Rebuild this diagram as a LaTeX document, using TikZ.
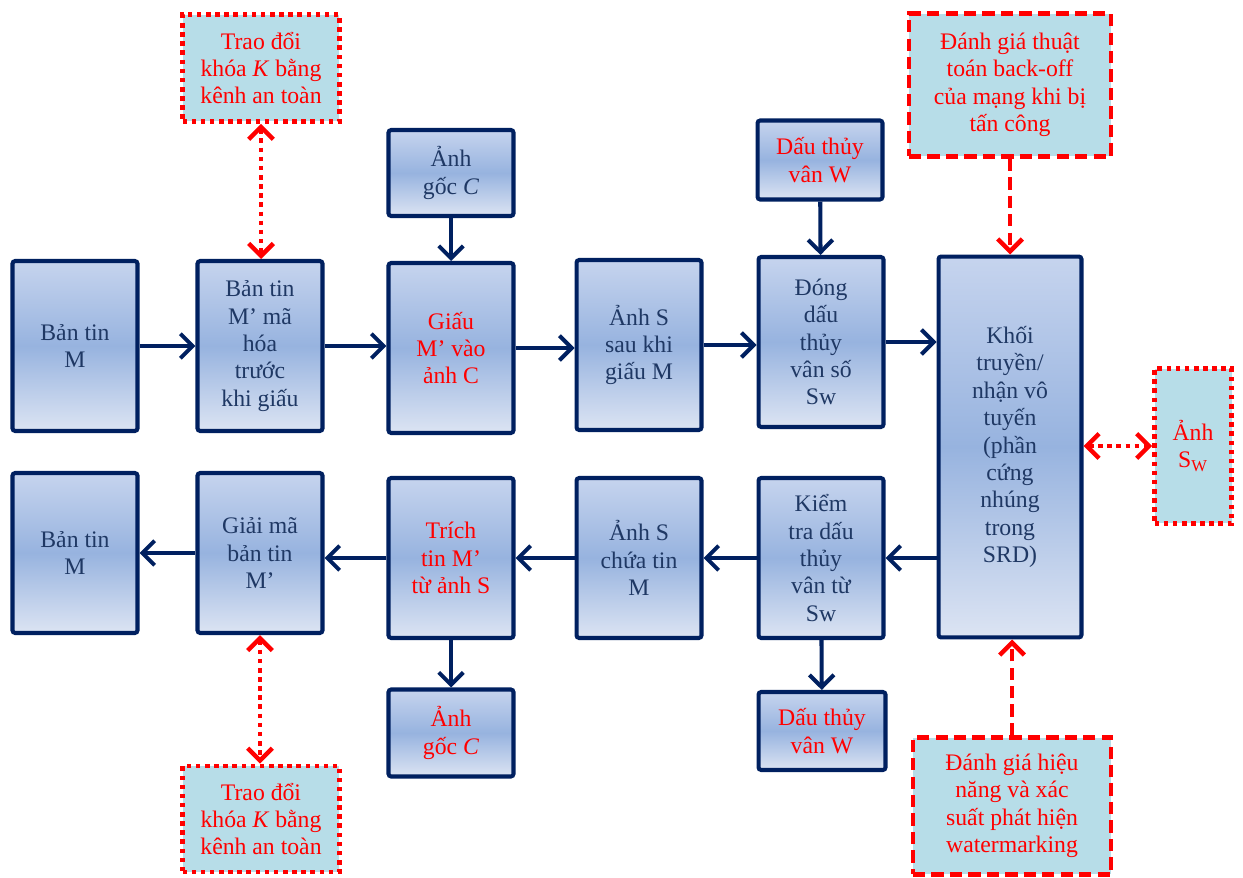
\documentclass[tikz,border=0pt]{standalone}
\usepackage{fontspec}
\setmainfont{Liberation Serif}
\usepackage{tikz}
\usetikzlibrary{arrows.meta}

\definecolor{navy}{HTML}{002060}
\definecolor{txtnavy}{HTML}{1F3864}
\definecolor{boxtop}{HTML}{C6D4EE}
\definecolor{boxmid}{HTML}{97B3DF}
\definecolor{boxbot}{HTML}{DCE4F3}
\definecolor{aqua}{HTML}{B7DDE8}

\begin{document}
\begin{tikzpicture}[x=0.02cm, y=-0.02cm,
    every node/.style={font=\fontsize{13.5}{15.6}\selectfont, align=center},
    blk/.style={draw=navy, line width=2.3pt, rounded corners=1.5pt,
        top color=boxtop, bottom color=boxbot, middle color=boxmid,
        text=txtnavy, minimum width=2.5cm, minimum height=3.4cm, inner sep=1pt},
    keybox/.style={draw=red, line width=2.6pt, dash pattern=on 2.6pt off 2.6pt,
        fill=aqua, text=red, inner sep=1pt},
    evalbox/.style={draw=red, line width=2.6pt, dash pattern=on 7pt off 3.5pt,
        fill=aqua, text=red, inner sep=1pt},
    flow/.style={draw=navy, line width=2.3pt, -{Straight Barb[length=7pt,width=14pt]}},
    keylink/.style={draw=red, line width=2.6pt, dash pattern=on 2.6pt off 2.6pt,
        {Straight Barb[length=7pt,width=14pt]}-{Straight Barb[length=7pt,width=14pt]}},
    evallink/.style={draw=red, line width=2.6pt, dash pattern=on 7pt off 3.5pt,
        -{Straight Barb[length=7pt,width=14pt]}}]
    \useasboundingbox (0,0) rectangle (1243,878);

    % Top row: sending side
    \node[blk] (msg) at (75,346) {Bản tin\\M};
    \node[blk] (enc) at (260,346) {Bản tin\\M’ mã\\hóa\\trước\\khi giấu};
    \node[blk, text=red] (hide) at (451,348) {Giấu\\M’ vào\\ảnh C};
    \node[blk, minimum height=1.72cm] (cover) at (451,173) {Ảnh\\gốc \textit{C}};
    \node[blk] (stego) at (639,345) {Ảnh S\\sau khi\\giấu M};
    \node[blk] (mark) at (821,342) {Đóng\\dấu\\thủy\\vân số\\Sw};
    \node[blk, minimum height=1.58cm, text=red] (wm) at (820,160) {Dấu thủy\\vân W};

    % Radio block
    \node[blk, minimum width=2.86cm, minimum height=7.62cm] (radio) at (1010,447)
        {Khối\\truyền/\\nhận vô\\tuyến\\(phần\\cứng\\nhúng\\trong\\SRD)};

    % Bottom row: receiving side
    \node[blk, minimum height=3.2cm] (msgr) at (75,553) {Bản tin\\M};
    \node[blk, minimum height=3.2cm] (dec) at (260,553) {Giải mã\\bản tin\\M’};
    \node[blk, minimum height=3.2cm, text=red] (extr) at (451,558) {Trích\\tin M’\\từ ảnh S};
    \node[blk, minimum height=1.74cm, text=red] (coverr) at (451,733) {Ảnh\\gốc \textit{C}};
    \node[blk, minimum height=3.2cm] (stegor) at (639,558) {Ảnh S\\chứa tin\\M};
    \node[blk, minimum height=3.2cm] (check) at (821,558) {Kiểm\\tra dấu\\thủy\\vân từ\\Sw};
    \node[blk, minimum height=1.56cm, minimum width=2.54cm, text=red] (wmr) at (822,731) {Dấu thủy\\vân W};

    % Side boxes
    \node[keybox, minimum width=3.14cm, minimum height=2.14cm] (key) at (261,68)
        {Trao đổi\\khóa \textit{K} bằng\\kênh an toàn};
    \node[keybox, minimum width=3.14cm, minimum height=2.12cm] (keyr) at (261,819)
        {Trao đổi\\khóa \textit{K} bằng\\kênh an toàn};
    \node[keybox, minimum width=1.54cm, minimum height=3.1cm] (img) at (1193,446)
        {Ảnh\\S\textsubscript{W}};
    \node[evalbox, minimum width=4.04cm, minimum height=2.86cm] (back) at (1010,85)
        {Đánh giá thuật\\toán back-off\\của mạng khi bị\\tấn công};
    \node[evalbox, minimum width=3.96cm, minimum height=2.74cm] (perf) at (1012,806)
        {Đánh giá hiệu\\năng và xác\\suất phát hiện\\watermarking};

    % Arrows
    \foreach \a/\b in {msg/enc, enc/hide, hide/stego, stego/mark, mark/radio}
        \draw[flow] (\a.east |- \a) -- (\b.west |- \a);
    \foreach \a/\b in {check/stegor, stegor/extr, extr/dec, dec/msgr}
        \draw[flow] (\a.west |- \a) -- (\b.east |- \a);
    \draw[flow] (radio.west |- check) -- (check.east);
    \draw[flow] (cover) -- (hide);
    \draw[flow] (wm) -- (mark);
    \draw[flow] (extr) -- (coverr);
    \draw[flow] (check) -- (wmr);

    % Red links
    \draw[keylink] (key.south) -- (key.south |- enc.north);
    \draw[keylink] (dec.south) -- (dec.south |- keyr.north);
    \draw[keylink] (radio.east |- img) -- (img.west);
    \draw[evallink] (back.south) -- (back.south |- radio.north);
    \draw[evallink] (perf.north) -- (perf.north |- radio.south);
\end{tikzpicture}
\end{document}
